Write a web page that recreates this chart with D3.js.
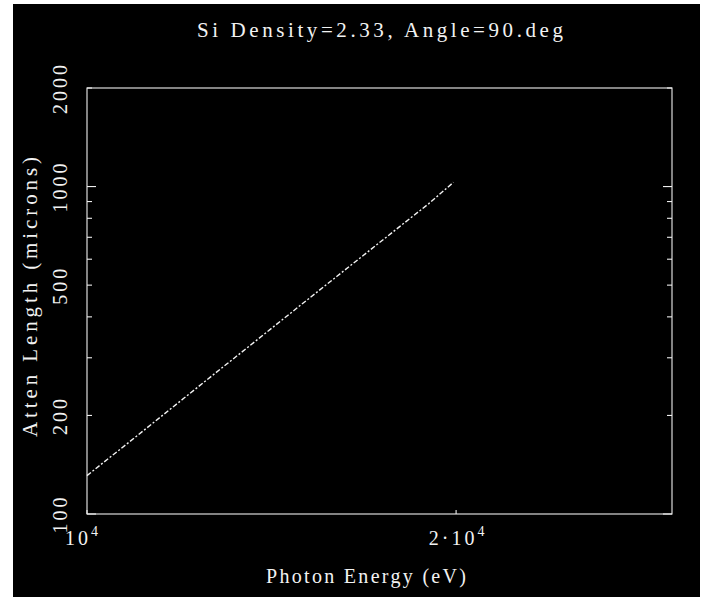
<!DOCTYPE html>
<html>
<head>
<meta charset="utf-8">
<script src="https://cdn.jsdelivr.net/npm/d3@7"></script>
<style>
  html, body { margin: 0; padding: 0; background: #fff; }
  svg { display: block; }
  text { font-family: "Liberation Serif", "DejaVu Serif", serif; fill: #f2f2f2; }
</style>
</head>
<body>
<svg id="chart" width="707" height="597"></svg>
<script>
// Photon energy (eV) and silicon attenuation length (microns)
const energies = [10000, 11000, 12000, 13000, 14000, 15000, 16000, 17000, 18000, 19000, 19900];
const attenLength = [131, 174, 226, 287, 358, 440, 533, 638, 756, 887, 1030];

const yTickValues = [100, 200, 500, 1000, 2000];
const yTickLabels = ["100", "200", "500", "1000", "2000"];
const xTickValues = [10000, 20000];
const xTickMantissa = ["", "2\u00b7"];

const titleText = "Si Density=2.33, Angle=90.deg";
const xTitle = "Photon Energy (eV)";
const yTitle = "Atten Length (microns)";

const svg = d3.select("#chart");

// dark page panel
svg.append("rect")
  .attr("x", 13).attr("y", 4).attr("width", 687).attr("height", 593)
  .attr("fill", "#000");

const plot = { left: 87, right: 672, top: 88, bottom: 514 };

const x = d3.scaleLog().domain([1e4, 3e4]).range([plot.left, plot.right]);
const y = d3.scaleLog().domain([100, 2000]).range([plot.bottom, plot.top]);

// minor tick positions on the vertical sides
const yMinor = d3.range(100, 1000, 100).concat([1000, 2000]);
const tickLenY = v => (v === 100 || v === 1000) ? 9 : 5;

const axisG = svg.append("g")
  .attr("stroke", "#eee").attr("stroke-width", 1.1).attr("fill", "none");

// plot frame
axisG.append("rect")
  .attr("x", plot.left).attr("y", plot.top)
  .attr("width", plot.right - plot.left).attr("height", plot.bottom - plot.top);

// y ticks on left and right sides
yMinor.forEach(v => {
  const yy = y(v), L = tickLenY(v);
  axisG.append("line").attr("x1", plot.left).attr("x2", plot.left + L).attr("y1", yy).attr("y2", yy);
  axisG.append("line").attr("x1", plot.right).attr("x2", plot.right - L).attr("y1", yy).attr("y2", yy);
});
// short x ticks at the labelled energies
xTickValues.forEach(v => {
  const xx = x(v);
  axisG.append("line").attr("x1", xx).attr("x2", xx).attr("y1", plot.bottom).attr("y2", plot.bottom - 4);
});

// y tick labels, rotated
yTickValues.forEach((v, i) => {
  svg.append("text")
    .attr("transform", `translate(67,${y(v)}) rotate(-90)`)
    .attr("text-anchor", "middle")
    .attr("font-size", 20)
    .attr("letter-spacing", 3)
    .text(yTickLabels[i]);
});

// x tick labels with exponent
xTickValues.forEach((v, i) => {
  const t = svg.append("text")
    .attr("x", x(v) + (i === 0 ? -4 : 2)).attr("y", 545)
    .attr("text-anchor", "middle")
    .attr("font-size", 20)
    .attr("letter-spacing", 3);
  t.append("tspan").text(xTickMantissa[i] + "10");
  t.append("tspan").attr("dy", -9).attr("font-size", 14).text("4");
});

// titles
svg.append("text")
  .attr("x", 380).attr("y", 37)
  .attr("text-anchor", "middle")
  .attr("font-size", 21)
  .attr("textLength", 366).attr("lengthAdjust", "spacing")
  .text(titleText);

svg.append("text")
  .attr("x", 366).attr("y", 583)
  .attr("text-anchor", "middle")
  .attr("font-size", 20)
  .attr("textLength", 200).attr("lengthAdjust", "spacing")
  .text(xTitle);

svg.append("text")
  .attr("transform", "translate(37,297) rotate(-90)")
  .attr("text-anchor", "middle")
  .attr("font-size", 21)
  .attr("textLength", 280).attr("lengthAdjust", "spacing")
  .text(yTitle);

// attenuation curve
const line = d3.line()
  .x((d, i) => x(energies[i]))
  .y(d => y(d));

svg.append("path")
  .datum(attenLength)
  .attr("d", line)
  .attr("fill", "none")
  .attr("stroke", "#f2f2f2")
  .attr("stroke-width", 1.4)
  .attr("stroke-dasharray", "5,2,2,2");
</script>
</body>
</html>
